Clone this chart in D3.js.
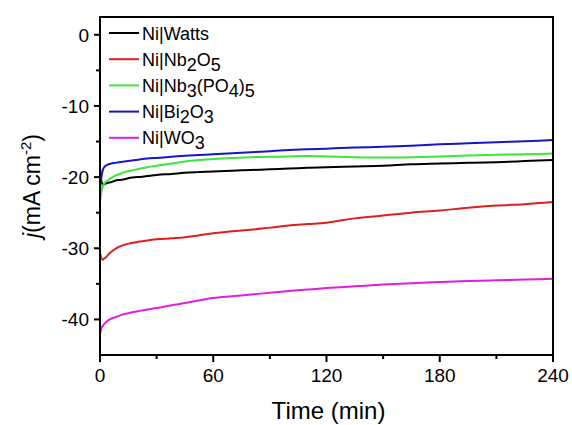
<!DOCTYPE html>
<meta charset="utf-8">
<style>
  body { margin: 0; background: #fff; }
  svg { font-family: Arial, "Liberation Sans", sans-serif; }
  .curve { fill: none; stroke-width: 2px; stroke-linejoin: round; }
  .tick-label { font-size: 19px; fill: #000; }
</style>
<body>
<script src="https://d3js.org/d3.v7.min.js"></script>
<div id="chart"></div>
<script>

// time points (min)
var times = [0, 0.5, 1, 1.5, 2, 3, 4, 6, 8, 10, 13, 16, 20, 25, 30, 38, 45, 52, 60, 70, 80, 90, 100, 110, 120, 135, 150, 165, 180, 195, 210, 225, 240];

// current density j (mA cm-2)
var watts   = [-18.7, -20.2, -20.8, -21.0, -21.0, -20.9, -20.8, -20.7, -20.5, -20.4, -20.3, -20.1, -20.0, -19.85, -19.7, -19.55, -19.4, -19.3, -19.2, -19.1, -19.0, -18.9, -18.8, -18.7, -18.6, -18.5, -18.4, -18.2, -18.1, -18.0, -17.9, -17.75, -17.6];
var nb2o5   = [-30.6, -31.2, -31.5, -31.6, -31.5, -31.3, -31.0, -30.5, -30.1, -29.8, -29.5, -29.3, -29.1, -28.9, -28.75, -28.6, -28.45, -28.2, -27.9, -27.6, -27.4, -27.1, -26.8, -26.6, -26.4, -25.8, -25.4, -25.0, -24.7, -24.3, -24.0, -23.8, -23.5];
var nb3po45 = [-23.5, -22.5, -21.8, -21.3, -21.0, -20.7, -20.5, -20.1, -19.8, -19.6, -19.3, -19.1, -18.9, -18.6, -18.4, -18.1, -17.8, -17.6, -17.45, -17.3, -17.2, -17.15, -17.1, -17.05, -17.1, -17.2, -17.25, -17.2, -17.1, -16.95, -16.85, -16.8, -16.7];
var bi2o3   = [-21.8, -20.5, -19.6, -19.0, -18.7, -18.4, -18.25, -18.1, -18.0, -17.9, -17.8, -17.7, -17.55, -17.4, -17.3, -17.15, -17.0, -16.9, -16.8, -16.65, -16.5, -16.35, -16.2, -16.1, -16.0, -15.85, -15.75, -15.6, -15.4, -15.25, -15.1, -14.95, -14.8];
var wo3     = [-42.0, -41.5, -41.1, -40.9, -40.7, -40.45, -40.2, -39.9, -39.7, -39.5, -39.25, -39.05, -38.85, -38.6, -38.4, -38.0, -37.7, -37.35, -37.0, -36.75, -36.5, -36.25, -36.0, -35.8, -35.6, -35.35, -35.1, -34.9, -34.75, -34.6, -34.5, -34.4, -34.3];

var xTicks = [0, 60, 120, 180, 240];
var xMinor = [30, 90, 150, 210];
var yTicks = [0, -10, -20, -30, -40];
var yMinor = [-5, -15, -25, -35];

// legend labels: [text, isSubscript] runs
var series = [
  {label: [["Ni|Watts", false]], values: watts, color: "#000000"},
  {label: [["Ni|Nb", false], ["2", true], ["O", false], ["5", true]], values: nb2o5, color: "#e01e1e"},
  {label: [["Ni|Nb", false], ["3", true], ["(PO", false], ["4", true], [")", false], ["5", true]], values: nb3po45, color: "#3ce63c"},
  {label: [["Ni|Bi", false], ["2", true], ["O", false], ["3", true]], values: bi2o3, color: "#1616c8"},
  {label: [["Ni|WO", false], ["3", true]], values: wo3, color: "#e01ee0"}
];

var W = 572, H = 425;
var margin = {top: 17, right: 19, bottom: 70, left: 100},
    width = W - margin.left - margin.right,
    height = H - margin.top - margin.bottom;

var x = d3.scaleLinear().domain([0, 240]).range([0, width]);
var y = d3.scaleLinear().domain([-45, 2.5]).range([height, 0]);

var svg = d3.select("#chart").append("svg")
    .attr("width", W)
    .attr("height", H)
  .append("g")
    .attr("transform", "translate(" + margin.left + "," + margin.top + ")");

// curves
var line = d3.line()
    .x(function(d) { return x(d[0]); })
    .y(function(d) { return y(d[1]); })
    .curve(d3.curveMonotoneX);

series.forEach(function(s) {
  svg.append("path")
    .datum(times.map(function(t, i) { return [t, s.values[i]]; }))
    .attr("class", "curve")
    .attr("stroke", s.color)
    .attr("d", line);
});

// frame
svg.append("rect")
  .attr("width", width)
  .attr("height", height)
  .attr("fill", "none")
  .attr("stroke", "#000")
  .attr("stroke-width", 2);

// x ticks (major + minor)
svg.selectAll(".xmaj").data(xTicks).enter().append("line")
  .attr("x1", function(d) { return x(d); }).attr("x2", function(d) { return x(d); })
  .attr("y1", height).attr("y2", height + 7)
  .attr("stroke", "#000").attr("stroke-width", 2);
svg.selectAll(".xmin").data(xMinor).enter().append("line")
  .attr("x1", function(d) { return x(d); }).attr("x2", function(d) { return x(d); })
  .attr("y1", height).attr("y2", height + 4)
  .attr("stroke", "#000").attr("stroke-width", 2);
svg.selectAll(".xlab").data(xTicks).enter().append("text")
  .attr("class", "tick-label")
  .attr("x", function(d) { return x(d); })
  .attr("y", height + 27)
  .attr("text-anchor", "middle")
  .text(function(d) { return d; });

// y ticks
svg.selectAll(".ymaj").data(yTicks).enter().append("line")
  .attr("x1", -6).attr("x2", 0)
  .attr("y1", function(d) { return y(d); }).attr("y2", function(d) { return y(d); })
  .attr("stroke", "#000").attr("stroke-width", 2);
svg.selectAll(".ymin").data(yMinor).enter().append("line")
  .attr("x1", -4).attr("x2", 0)
  .attr("y1", function(d) { return y(d); }).attr("y2", function(d) { return y(d); })
  .attr("stroke", "#000").attr("stroke-width", 2);
svg.selectAll(".ylab").data(yTicks).enter().append("text")
  .attr("class", "tick-label")
  .attr("x", -11)
  .attr("y", function(d) { return y(d) + 7; })
  .attr("text-anchor", "end")
  .text(function(d) { return d; });

// axis titles
svg.append("text")
  .attr("x", width / 2 + 2)
  .attr("y", height + 64)
  .attr("text-anchor", "middle")
  .style("font-size", "24px")
  .text("Time (min)");

var yt = svg.append("text")
  .attr("transform", "translate(" + (-margin.left + 40) + "," + (height / 2) + ") rotate(-90)")
  .attr("text-anchor", "middle")
  .style("font-size", "23px");
yt.append("tspan").style("font-style", "italic").text("j");
yt.append("tspan").text("(mA cm");
yt.append("tspan").attr("dy", -9).style("font-size", "15px").text("-2");
yt.append("tspan").attr("dy", 9).text(")");

// legend
var legend = svg.append("g").attr("transform", "translate(9,16)");
series.forEach(function(s, i) {
  var g = legend.append("g").attr("transform", "translate(0," + (i * 26.2) + ")");
  g.append("line").attr("x1", 0).attr("x2", 30).attr("y1", 0).attr("y2", 0)
    .attr("stroke", s.color).attr("stroke-width", 2);
  var t = g.append("text").attr("x", 33).attr("y", 6.5).style("font-size", "18px");
  var down = false;
  s.label.forEach(function(run) {
    var ts = t.append("tspan").text(run[0]);
    if (run[1] && !down) { ts.attr("dy", 5); down = true; }
    else if (!run[1] && down) { ts.attr("dy", -5); down = false; }
  });
});

</script>
</body>
</html>
